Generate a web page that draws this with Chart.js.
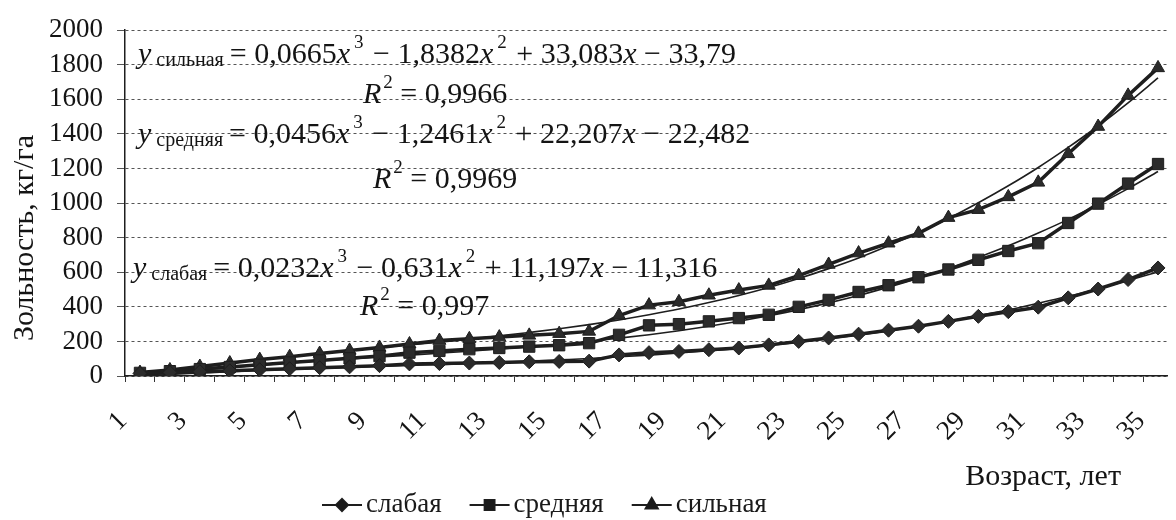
<!DOCTYPE html>
<html>
<head>
<meta charset="utf-8">
<script src="https://cdn.jsdelivr.net/npm/chart.js@4.4.1/dist/chart.umd.min.js"></script>
<style>
html, body { margin: 0; padding: 0; background: #fff; overflow: hidden; }
</style>
</head>
<body>
<canvas id="AshCanvas" width="1176" height="520"></canvas>
<script>
// возраст, лет
var ages = [1, 2, 3, 4, 5, 6, 7, 8, 9, 10, 11, 12, 13, 14, 15, 16, 17, 18,
            19, 20, 21, 22, 23, 24, 25, 26, 27, 28, 29, 30, 31, 32, 33, 34, 35];
var ageLabels = ["1", "3", "5", "7", "9", "11", "13", "15", "17", "19", "21",
                 "23", "25", "27", "29", "31", "33", "35"];
var seriesNames = ["слабая", "средняя", "сильная"];

// зольность, кг/га
var weak = [15, 20, 25, 30, 36, 42, 48, 53, 60, 70, 72, 75, 78, 82, 84, 86, 122, 135,
            142, 152, 162, 180, 200, 220, 242, 265, 288, 316, 345, 372, 398, 452, 503, 558, 625];
var medium = [18, 28, 40, 52, 65, 78, 90, 102, 115, 135, 145, 155, 162, 170, 178, 190, 238, 293,
              300, 316, 335, 354, 400, 440, 486, 525, 571, 616, 672, 723, 768, 885, 997, 1113, 1226];
var strong = [20, 35, 55, 75, 95, 112, 130, 148, 165, 185, 205, 215, 225, 235, 245, 258, 350, 410,
              429, 467, 497, 524, 580, 645, 711, 768, 825, 916, 962, 1036, 1120, 1285, 1443, 1623, 1782];

// trend lines
var weakTrend = [0, 9, 17, 25, 32, 38, 44, 50, 55, 61, 66, 72, 79, 85, 93, 101, 111, 121,
                 133, 146, 160, 177, 195, 215, 237, 261, 288, 317, 349, 383, 421, 461, 505, 552, 602];
var mediumTrend = [0, 17, 34, 49, 63, 76, 88, 99, 110, 121, 132, 143, 156, 169, 184, 201, 219, 239,
                   262, 288, 317, 349, 384, 423, 466, 514, 566, 623, 686, 753, 827, 906, 992, 1084, 1183];
var strongTrend = [0, 26, 51, 73, 94, 113, 131, 147, 164, 180, 196, 213, 232, 252, 273, 297, 324, 354,
                   387, 425, 466, 512, 564, 621, 683, 753, 828, 911, 1002, 1100, 1206, 1322, 1446, 1580, 1724];

var yTicks = [0, 200, 400, 600, 800, 1000, 1200, 1400, 1600, 1800, 2000];

var ink = "#1e1e1e";
var serif = '"Liberation Serif", "Times New Roman", serif';

function pts(values) {
    return values.map(function (v, i) { return { x: ages[i], y: v }; });
}

function dataSet(values, style, radius) {
    return {
        data: pts(values),
        borderColor: ink,
        borderWidth: 3.5,
        pointStyle: style,
        pointRadius: radius,
        pointBackgroundColor: "#2b2b2b",
        pointBorderColor: ink,
        pointBorderWidth: 1,
        order: 1
    };
}

function trendSet(values) {
    return {
        data: pts(values),
        borderColor: ink,
        borderWidth: 1.6,
        pointRadius: 0,
        cubicInterpolationMode: "monotone",
        order: 2
    };
}

// text runs: [text, kind, extra advance] kind: n normal, i italic, sub, sup
function drawRuns(ctx, x, y, runs) {
    runs.forEach(function (r) {
        var kind = r[1], dy = 0;
        if (kind === "i") ctx.font = "italic 30px " + serif;
        else if (kind === "sub") { ctx.font = "20px " + serif; dy = 3; }
        else if (kind === "sup") { ctx.font = "19px " + serif; dy = -15; }
        else ctx.font = "30px " + serif;
        ctx.fillText(r[0], x, y + dy);
        x += ctx.measureText(r[0]).width + (r[2] || 0);
    });
}

var equations = {
    id: "equations",
    afterDatasetsDraw: function (chart) {
        var ctx = chart.ctx;
        ctx.save();
        ctx.fillStyle = "#141414";
        ctx.textAlign = "left";
        ctx.textBaseline = "alphabetic";

        drawRuns(ctx, 138, 63, [["y", "i", 5], ["сильная", "sub", 6], ["= 0,0665", "n"], ["x", "i", 4], ["3", "sup", 2],
            [" − 1,8382", "n"], ["x", "i", 4], ["2", "sup", 2], [" + 33,083", "n"], ["x", "i"], [" − 33,79", "n"]]);
        drawRuns(ctx, 363, 103, [["R", "i", 2], ["2", "sup", 0], [" = 0,9966", "n"]]);

        drawRuns(ctx, 138, 143, [["y", "i", 5], ["средняя", "sub", 6], ["= 0,0456", "n"], ["x", "i", 4], ["3", "sup", 2],
            [" − 1,2461", "n"], ["x", "i", 4], ["2", "sup", 2], [" + 22,207", "n"], ["x", "i"], [" − 22,482", "n"]]);
        drawRuns(ctx, 373, 188, [["R", "i", 2], ["2", "sup", 0], [" = 0,9969", "n"]]);

        drawRuns(ctx, 133, 277, [["y", "i", 5], ["слабая", "sub", 6], ["= 0,0232", "n"], ["x", "i", 4], ["3", "sup", 2],
            [" − 0,631", "n"], ["x", "i", 4], ["2", "sup", 2], [" + 11,197", "n"], ["x", "i"], [" − 11,316", "n"]]);
        drawRuns(ctx, 360, 315, [["R", "i", 2], ["2", "sup", 0], [" = 0,997", "n"]]);
        ctx.restore();
    },
    afterDraw: function (chart) {
        var ctx = chart.ctx;
        var xs = chart.scales.x;
        ctx.save();
        ctx.fillStyle = "#141414";

        // y axis title
        ctx.save();
        ctx.font = "30px " + serif;
        ctx.textAlign = "center";
        ctx.textBaseline = "alphabetic";
        ctx.translate(33, 238);
        ctx.rotate(-Math.PI / 2);
        ctx.fillText("Зольность, кг/га", 0, 0);
        ctx.restore();

        // rotated age labels, text rising to the right, end near the tick
        ctx.font = "27px " + serif;
        ctx.textAlign = "right";
        ctx.textBaseline = "middle";
        ageLabels.forEach(function (lab) {
            var px = xs.getPixelForValue(Number(lab));
            ctx.save();
            ctx.translate(px - 17, 417);
            ctx.rotate(-Math.PI / 4);
            ctx.fillText(lab, 0, 0);
            ctx.restore();
        });

        // x axis title
        ctx.font = "30px " + serif;
        ctx.textAlign = "right";
        ctx.textBaseline = "alphabetic";
        ctx.fillText("Возраст, лет", 1121, 485);

        // legend
        var styles = ["rectRot", "rect", "triangle"];
        var radii = [6, 7, 7];
        var lineLen = 40, gapText = 4, gapItem = 28;
        ctx.font = "27px " + serif;
        var lx = 322, ly = 505;
        seriesNames.forEach(function (n, i) {
            ctx.strokeStyle = ink;
            ctx.lineWidth = 2;
            ctx.beginPath();
            ctx.moveTo(lx, ly);
            ctx.lineTo(lx + lineLen, ly);
            ctx.stroke();
            ctx.fillStyle = "#1a1a1a";
            Chart.helpers.drawPoint(ctx, { pointStyle: styles[i], radius: radii[i], borderWidth: 1, rotation: 0 },
                lx + lineLen / 2, ly);
            ctx.fill();
            ctx.textAlign = "left";
            ctx.textBaseline = "middle";
            ctx.fillText(n, lx + lineLen + gapText, ly);
            lx += lineLen + gapText + ctx.measureText(n).width + gapItem;
        });
        ctx.restore();
    }
};

window.onload = function () {
    var ashCtx = document.getElementById("AshCanvas").getContext("2d");

    window.AshChart = new Chart(ashCtx, {
        type: "line",
        data: {
            datasets: [
                dataSet(weak, "rectRot", 7),
                dataSet(medium, "rect", 8),
                dataSet(strong, "triangle", 7.5),
                trendSet(weakTrend),
                trendSet(mediumTrend),
                trendSet(strongTrend)
            ]
        },
        options: {
            responsive: false,
            animation: false,
            layout: { padding: { top: 22, right: 0, left: 0, bottom: 0 } },
            plugins: {
                legend: { display: false },
                tooltip: { enabled: false }
            },
            scales: {
                x: {
                    type: "linear",
                    min: 0.5,
                    max: 35.3,
                    afterBuildTicks: function (s) {
                        s.ticks = ages.map(function (a) { return { value: a - 0.5 }; });
                    },
                    afterFit: function (s) { s.height = 144; },
                    ticks: { display: false },
                    grid: { drawOnChartArea: false, tickLength: 6, color: "#333" },
                    border: { color: ink, width: 1.5 }
                },
                y: {
                    min: 0,
                    max: 2000,
                    afterBuildTicks: function (s) {
                        s.ticks = yTicks.map(function (v) { return { value: v }; });
                    },
                    afterFit: function (s) { s.width = 125; },
                    ticks: {
                        autoSkip: false,
                        color: "#141414",
                        font: { family: serif, size: 27 },
                        padding: 14,
                        callback: function (v) { return String(v); }
                    },
                    grid: { color: "#555", lineWidth: 1, tickLength: 8 },
                    border: { color: ink, width: 1.5, dash: [3, 3] }
                }
            }
        },
        plugins: [equations]
    });
};
</script>
</body>
</html>
